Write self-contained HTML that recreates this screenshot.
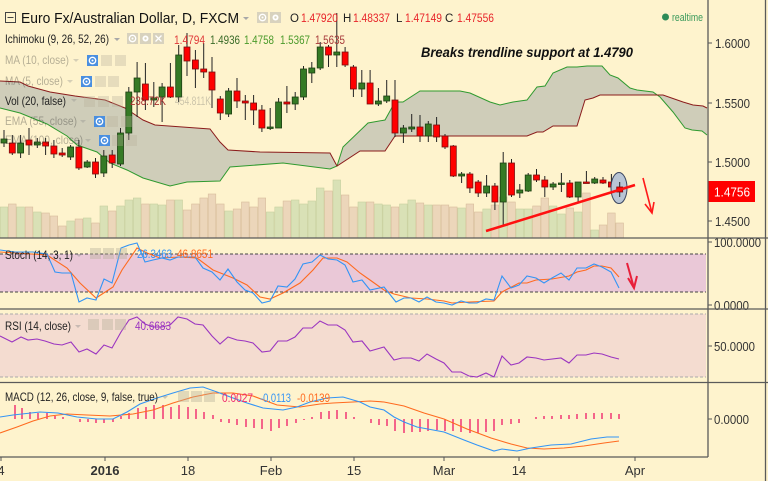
<!DOCTYPE html>
<html><head><meta charset="utf-8"><style>
html,body{margin:0;padding:0;background:#fef3cd;}
svg{display:block;}
text{font-family:"Liberation Sans",Arial,sans-serif;}
.w{stroke:#222;stroke-width:1}
.g{fill:#357a25;stroke:#1d3f12;stroke-width:.8}
.r{fill:#ff0000;stroke:#7a1010;stroke-width:.8}
.vg{fill:#d9e1b6;stroke:#c6cf9f;stroke-width:.6}
.vs{fill:#ecd6ba;stroke:#d8bd9c;stroke-width:.6}
.ax{font-size:13px;fill:#333}
.lb{font-size:12px;fill:#222}
.hs{stroke:#f0286e;stroke-width:1.4}
</style></head><body>
<svg width="768" height="481" viewBox="0 0 768 481" xmlns="http://www.w3.org/2000/svg">
<rect x="0" y="0" width="768" height="481" fill="#fef3cd"/>

<!-- Stoch band & RSI band -->
<rect x="0" y="254" width="706" height="38" fill="#eac8d7"/>
<line x1="0" y1="254" x2="706" y2="254" stroke="#444" stroke-width="1" stroke-dasharray="3,2"/>
<line x1="0" y1="292" x2="706" y2="292" stroke="#444" stroke-width="1" stroke-dasharray="3,2"/>
<rect x="0" y="314" width="706" height="63" fill="#f4dcd0"/>
<line x1="0" y1="314" x2="706" y2="314" stroke="#aaa" stroke-width="1" stroke-dasharray="3,2"/>
<line x1="0" y1="377" x2="706" y2="377" stroke="#aaa" stroke-width="1" stroke-dasharray="3,2"/>

<!-- Volume -->
<g>
<rect class="vg" x="0.2" y="207" width="7.6" height="31"/>
<rect class="vs" x="8.5" y="204" width="7.6" height="34"/>
<rect class="vg" x="16.8" y="207" width="7.6" height="31"/>
<rect class="vs" x="25.2" y="207" width="7.6" height="31"/>
<rect class="vg" x="33.5" y="212" width="7.6" height="26"/>
<rect class="vs" x="41.8" y="213" width="7.6" height="25"/>
<rect class="vs" x="50.1" y="216" width="7.6" height="22"/>
<rect class="vs" x="58.4" y="226" width="7.6" height="12"/>
<rect class="vg" x="66.8" y="221" width="7.6" height="17"/>
<rect class="vs" x="75.1" y="219" width="7.6" height="19"/>
<rect class="vg" x="83.4" y="218" width="7.6" height="20"/>
<rect class="vs" x="91.7" y="223" width="7.6" height="15"/>
<rect class="vg" x="100" y="206" width="7.6" height="32"/>
<rect class="vs" x="108.4" y="211" width="7.6" height="27"/>
<rect class="vg" x="116.7" y="206" width="7.6" height="32"/>
<rect class="vg" x="125" y="200" width="7.6" height="38"/>
<rect class="vg" x="133.3" y="198" width="7.6" height="40"/>
<rect class="vs" x="141.6" y="204" width="7.6" height="34"/>
<rect class="vg" x="150" y="204" width="7.6" height="34"/>
<rect class="vg" x="158.3" y="205" width="7.6" height="33"/>
<rect class="vs" x="166.6" y="200" width="7.6" height="38"/>
<rect class="vg" x="174.9" y="200" width="7.6" height="38"/>
<rect class="vs" x="183.2" y="210" width="7.6" height="28"/>
<rect class="vs" x="191.6" y="204" width="7.6" height="34"/>
<rect class="vs" x="199.9" y="198" width="7.6" height="40"/>
<rect class="vs" x="208.2" y="194" width="7.6" height="44"/>
<rect class="vs" x="216.5" y="204" width="7.6" height="34"/>
<rect class="vg" x="224.8" y="211" width="7.6" height="27"/>
<rect class="vs" x="233.2" y="209" width="7.6" height="29"/>
<rect class="vs" x="241.5" y="202" width="7.6" height="36"/>
<rect class="vs" x="249.8" y="207" width="7.6" height="31"/>
<rect class="vs" x="258.1" y="198" width="7.6" height="40"/>
<rect class="vg" x="266.4" y="212" width="7.6" height="26"/>
<rect class="vg" x="274.8" y="207" width="7.6" height="31"/>
<rect class="vs" x="283.1" y="201" width="7.6" height="37"/>
<rect class="vg" x="291.4" y="200" width="7.6" height="38"/>
<rect class="vg" x="299.7" y="204" width="7.6" height="34"/>
<rect class="vg" x="308" y="201" width="7.6" height="37"/>
<rect class="vg" x="316.4" y="188" width="7.6" height="50"/>
<rect class="vs" x="324.7" y="191" width="7.6" height="47"/>
<rect class="vg" x="333" y="180" width="7.6" height="58"/>
<rect class="vs" x="341.3" y="195" width="7.6" height="43"/>
<rect class="vs" x="349.6" y="207" width="7.6" height="31"/>
<rect class="vg" x="358" y="202" width="7.6" height="36"/>
<rect class="vs" x="366.3" y="202" width="7.6" height="36"/>
<rect class="vg" x="374.6" y="204" width="7.6" height="34"/>
<rect class="vg" x="382.9" y="205" width="7.6" height="33"/>
<rect class="vs" x="391.2" y="207" width="7.6" height="31"/>
<rect class="vg" x="399.6" y="204" width="7.6" height="34"/>
<rect class="vg" x="407.9" y="200" width="7.6" height="38"/>
<rect class="vs" x="416.2" y="203" width="7.6" height="35"/>
<rect class="vg" x="424.5" y="205" width="7.6" height="33"/>
<rect class="vs" x="432.8" y="205" width="7.6" height="33"/>
<rect class="vs" x="441.2" y="205" width="7.6" height="33"/>
<rect class="vs" x="449.5" y="207" width="7.6" height="31"/>
<rect class="vg" x="457.8" y="208" width="7.6" height="30"/>
<rect class="vs" x="466.1" y="204" width="7.6" height="34"/>
<rect class="vs" x="474.4" y="212" width="7.6" height="26"/>
<rect class="vg" x="482.8" y="209" width="7.6" height="29"/>
<rect class="vs" x="491.1" y="205" width="7.6" height="33"/>
<rect class="vg" x="499.4" y="197" width="7.6" height="41"/>
<rect class="vs" x="507.7" y="202" width="7.6" height="36"/>
<rect class="vg" x="516" y="209" width="7.6" height="29"/>
<rect class="vg" x="524.4" y="209" width="7.6" height="29"/>
<rect class="vs" x="532.7" y="206" width="7.6" height="32"/>
<rect class="vs" x="541" y="198" width="7.6" height="40"/>
<rect class="vg" x="549.3" y="206" width="7.6" height="32"/>
<rect class="vg" x="557.6" y="214" width="7.6" height="24"/>
<rect class="vs" x="566" y="208" width="7.6" height="30"/>
<rect class="vg" x="574.3" y="212" width="7.6" height="26"/>
<rect class="vs" x="582.6" y="193" width="7.6" height="45"/>
<rect class="vg" x="590.9" y="230" width="7.6" height="8"/>
<rect class="vs" x="599.2" y="225" width="7.6" height="13"/>
<rect class="vs" x="607.6" y="213" width="7.6" height="25"/>
<rect class="vs" x="615.9" y="223" width="7.6" height="15"/>
</g>

<!-- Ichimoku cloud -->
<polygon fill="#cfcdb9" points="0,108 20,113 47,124 67,136 77,145 97,152 110,163 127,170 143,178 170,186 187,182 220,181 230,167 283,163 330,169 337,166 343,147 368,123 385,120 395,102 403,102 420,91 460,91 470,93 490,102 500,105 513,102 527,100 537,87 545,86 553,73 567,67 577,67 587,66 602,66 610,75 618,78 630,88 637,90 653,92 660,97 673,112 685,128 692,130 702,131 707,135 707,108 703,106 693,105 683,102 663,95 600,95 593,98 585,100 577,126 553,126 543,132 537,132 527,136 395,136 385,151 360,151 337,166 330,153 260,152 228,150 220,142 210,129 155,125 143,120 125,108 105,100 75,96 50,92 28,86 20,82 0,81"/>
<polyline fill="none" stroke="#2f9a2f" stroke-width="1" points="0,108 20,113 47,124 67,136 77,145 97,152 110,163 127,170 143,178 170,186 187,182 220,181 230,167 283,163 330,169 337,166 343,147 368,123 385,120 395,102 403,102 420,91 460,91 470,93 490,102 500,105 513,102 527,100 537,87 545,86 553,73 567,67 577,67 587,66 602,66 610,75 618,78 630,88 637,90 653,92 660,97 673,112 685,128 692,130 702,131 707,135"/>
<polyline fill="none" stroke="#8b1c1c" stroke-width="1" points="0,81 20,82 28,86 50,92 75,96 105,100 125,108 143,120 155,125 210,129 220,142 228,150 260,152 330,153 337,166 360,151 385,151 395,136 527,136 537,132 543,132 553,126 577,126 585,100 593,98 600,95 663,95 683,102 693,105 703,106 707,108"/>

<!-- Candles -->
<g>
<line class="w" x1="4" y1="130" x2="4" y2="147"/><rect class="g" x="1" y="139" width="6" height="4"/>
<line class="w" x1="12.3" y1="135" x2="12.3" y2="155"/><rect class="r" x="9.3" y="143" width="6" height="10"/>
<line class="w" x1="20.6" y1="135" x2="20.6" y2="158"/><rect class="g" x="17.6" y="143" width="6" height="10"/>
<line class="w" x1="29" y1="128" x2="29" y2="155"/><rect class="r" x="26" y="140" width="6" height="5"/>
<line class="w" x1="37.3" y1="138" x2="37.3" y2="148"/><rect class="g" x="34.3" y="142" width="6" height="3"/>
<line class="w" x1="45.6" y1="138" x2="45.6" y2="155"/><rect class="r" x="42.6" y="142" width="6" height="4"/>
<line class="w" x1="53.9" y1="140" x2="53.9" y2="158"/><rect class="r" x="50.9" y="146" width="6" height="8"/>
<line class="w" x1="62.2" y1="148" x2="62.2" y2="157"/><rect class="r" x="59.2" y="153" width="6" height="2"/>
<line class="w" x1="70.6" y1="145" x2="70.6" y2="160"/><rect class="g" x="67.6" y="147" width="6" height="10"/>
<line class="w" x1="78.9" y1="140" x2="78.9" y2="170"/><rect class="r" x="75.9" y="147" width="6" height="21"/>
<line class="w" x1="87.2" y1="160" x2="87.2" y2="168"/><rect class="g" x="84.2" y="162" width="6" height="5"/>
<line class="w" x1="95.5" y1="158" x2="95.5" y2="178"/><rect class="r" x="92.5" y="162" width="6" height="12"/>
<line class="w" x1="103.8" y1="150" x2="103.8" y2="177"/><rect class="g" x="100.8" y="156" width="6" height="17"/>
<line class="w" x1="112.2" y1="150" x2="112.2" y2="168"/><rect class="r" x="109.2" y="155" width="6" height="8"/>
<line class="w" x1="120.5" y1="128" x2="120.5" y2="166"/><rect class="g" x="117.5" y="133" width="6" height="31"/>
<line class="w" x1="128.8" y1="87" x2="128.8" y2="140"/><rect class="g" x="125.8" y="92" width="6" height="41"/>
<line class="w" x1="137.1" y1="62" x2="137.1" y2="117"/><rect class="g" x="134.1" y="78" width="6" height="14"/>
<line class="w" x1="145.4" y1="63" x2="145.4" y2="110"/><rect class="r" x="142.4" y="84" width="6" height="16"/>
<line class="w" x1="153.8" y1="82" x2="153.8" y2="107"/><rect class="g" x="150.8" y="98" width="6" height="2"/>
<line class="w" x1="162.1" y1="83" x2="162.1" y2="122"/><rect class="g" x="159.1" y="87" width="6" height="10"/>
<line class="w" x1="170.4" y1="63" x2="170.4" y2="98"/><rect class="r" x="167.4" y="87" width="6" height="10"/>
<line class="w" x1="178.7" y1="45" x2="178.7" y2="102"/><rect class="g" x="175.7" y="55" width="6" height="42"/>
<line class="w" x1="187" y1="33" x2="187" y2="76"/><rect class="r" x="184" y="47" width="6" height="14"/>
<line class="w" x1="195.4" y1="50" x2="195.4" y2="88"/><rect class="r" x="192.4" y="60" width="6" height="9"/>
<line class="w" x1="203.7" y1="43" x2="203.7" y2="78"/><rect class="r" x="200.7" y="69" width="6" height="3"/>
<line class="w" x1="212" y1="57" x2="212" y2="108"/><rect class="r" x="209" y="72" width="6" height="18"/>
<line class="w" x1="220.3" y1="96" x2="220.3" y2="120"/><rect class="r" x="217.3" y="99" width="6" height="14"/>
<line class="w" x1="228.6" y1="88" x2="228.6" y2="117"/><rect class="g" x="225.6" y="91" width="6" height="23"/>
<line class="w" x1="237" y1="78" x2="237" y2="108"/><rect class="r" x="234" y="91" width="6" height="10"/>
<line class="w" x1="245.3" y1="95" x2="245.3" y2="120"/><rect class="r" x="242.3" y="101" width="6" height="2"/>
<line class="w" x1="253.6" y1="95" x2="253.6" y2="125"/><rect class="r" x="250.6" y="103" width="6" height="7"/>
<line class="w" x1="261.9" y1="105" x2="261.9" y2="132"/><rect class="r" x="258.9" y="110" width="6" height="18"/>
<line class="w" x1="270.2" y1="108" x2="270.2" y2="130"/><rect class="g" x="267.2" y="127" width="6" height="1.5"/>
<line class="w" x1="278.6" y1="98" x2="278.6" y2="128"/><rect class="g" x="275.6" y="102" width="6" height="26"/>
<line class="w" x1="286.9" y1="86" x2="286.9" y2="113"/><rect class="r" x="283.9" y="102" width="6" height="2"/>
<line class="w" x1="295.2" y1="92" x2="295.2" y2="110"/><rect class="g" x="292.2" y="97" width="6" height="7"/>
<line class="w" x1="303.5" y1="66" x2="303.5" y2="100"/><rect class="g" x="300.5" y="69" width="6" height="28"/>
<line class="w" x1="311.8" y1="62" x2="311.8" y2="83"/><rect class="g" x="308.8" y="68" width="6" height="5"/>
<line class="w" x1="320.2" y1="42" x2="320.2" y2="70"/><rect class="g" x="317.2" y="47" width="6" height="21"/>
<line class="w" x1="328.5" y1="45" x2="328.5" y2="67"/><rect class="r" x="325.5" y="47" width="6" height="8"/>
<line class="w" x1="336.8" y1="13" x2="336.8" y2="67"/><rect class="g" x="333.8" y="52" width="6" height="3"/>
<line class="w" x1="345.1" y1="47" x2="345.1" y2="67"/><rect class="r" x="342.1" y="52" width="6" height="13"/>
<line class="w" x1="353.4" y1="65" x2="353.4" y2="97"/><rect class="r" x="350.4" y="67" width="6" height="22"/>
<line class="w" x1="361.8" y1="70" x2="361.8" y2="97"/><rect class="g" x="358.8" y="83" width="6" height="6"/>
<line class="w" x1="370.1" y1="70" x2="370.1" y2="104"/><rect class="r" x="367.1" y="83" width="6" height="21"/>
<line class="w" x1="378.4" y1="88" x2="378.4" y2="106"/><rect class="g" x="375.4" y="101" width="6" height="3"/>
<line class="w" x1="386.7" y1="80" x2="386.7" y2="103"/><rect class="g" x="383.7" y="96" width="6" height="5"/>
<line class="w" x1="395" y1="80" x2="395" y2="137"/><rect class="r" x="392" y="100" width="6" height="33"/>
<line class="w" x1="403.4" y1="125" x2="403.4" y2="143"/><rect class="g" x="400.4" y="128" width="6" height="5"/>
<line class="w" x1="411.7" y1="114" x2="411.7" y2="132"/><rect class="g" x="408.7" y="127" width="6" height="2"/>
<line class="w" x1="420" y1="115" x2="420" y2="142"/><rect class="r" x="417" y="127" width="6" height="9"/>
<line class="w" x1="428.3" y1="121" x2="428.3" y2="142"/><rect class="g" x="425.3" y="124" width="6" height="12"/>
<line class="w" x1="436.6" y1="117" x2="436.6" y2="142"/><rect class="r" x="433.6" y="125" width="6" height="12"/>
<line class="w" x1="445" y1="134" x2="445" y2="149"/><rect class="r" x="442" y="136" width="6" height="11"/>
<line class="w" x1="453.3" y1="145" x2="453.3" y2="177"/><rect class="r" x="450.3" y="146" width="6" height="30"/>
<line class="w" x1="461.6" y1="172" x2="461.6" y2="183"/><rect class="g" x="458.6" y="174" width="6" height="2"/>
<line class="w" x1="469.9" y1="172" x2="469.9" y2="193"/><rect class="r" x="466.9" y="174" width="6" height="14"/>
<line class="w" x1="478.2" y1="180" x2="478.2" y2="197"/><rect class="r" x="475.2" y="182" width="6" height="11"/>
<line class="w" x1="486.6" y1="175" x2="486.6" y2="197"/><rect class="g" x="483.6" y="186" width="6" height="7"/>
<line class="w" x1="494.9" y1="183" x2="494.9" y2="210"/><rect class="r" x="491.9" y="186" width="6" height="16"/>
<line class="w" x1="503.2" y1="152" x2="503.2" y2="225"/><rect class="g" x="500.2" y="163" width="6" height="39"/>
<line class="w" x1="511.5" y1="159" x2="511.5" y2="197"/><rect class="r" x="508.5" y="163" width="6" height="32"/>
<line class="w" x1="519.8" y1="184" x2="519.8" y2="198"/><rect class="g" x="516.8" y="190" width="6" height="3"/>
<line class="w" x1="528.2" y1="173" x2="528.2" y2="192"/><rect class="g" x="525.2" y="175" width="6" height="16"/>
<line class="w" x1="536.5" y1="169" x2="536.5" y2="182"/><rect class="r" x="533.5" y="175" width="6" height="5"/>
<line class="w" x1="544.8" y1="176" x2="544.8" y2="197"/><rect class="r" x="541.8" y="180" width="6" height="7"/>
<line class="w" x1="553.1" y1="182" x2="553.1" y2="190"/><rect class="g" x="550.1" y="184" width="6" height="3"/>
<line class="w" x1="561.4" y1="173" x2="561.4" y2="192"/><rect class="g" x="558.4" y="183" width="6" height="1.5"/>
<line class="w" x1="569.8" y1="180" x2="569.8" y2="198"/><rect class="r" x="566.8" y="183" width="6" height="14"/>
<line class="w" x1="578.1" y1="182" x2="578.1" y2="202"/><rect class="g" x="575.1" y="182" width="6" height="15"/>
<line class="w" x1="586.4" y1="171" x2="586.4" y2="183"/><rect class="r" x="583.4" y="182" width="6" height="1.5"/>
<line class="w" x1="594.7" y1="177" x2="594.7" y2="184"/><rect class="g" x="591.7" y="179" width="6" height="4"/>
<line class="w" x1="603" y1="177" x2="603" y2="184"/><rect class="r" x="600" y="180" width="6" height="3"/>
<line class="w" x1="611.4" y1="174" x2="611.4" y2="188"/><rect class="r" x="608.4" y="182" width="6" height="5"/>
</g>

<!-- Ellipse & last candle -->
<ellipse cx="619" cy="188" rx="8" ry="15.5" fill="#b9c5d5" stroke="#3a4560" stroke-width="1"/>
<line class="w" x1="619.7" y1="182" x2="619.7" y2="197"/><rect class="r" x="616.7" y="187" width="6" height="5"/>
<!-- Trendline -->
<line x1="486" y1="231" x2="635" y2="185" stroke="#ff1010" stroke-width="2.5"/>
<!-- Arrow main -->
<g stroke="#ff1a1a" stroke-width="1.6" fill="none">
<line x1="643" y1="178" x2="652" y2="213"/>
<polyline points="645,204 652,213 654,202"/>
</g>
<!-- Arrow stoch -->
<g stroke="#e8203a" stroke-width="2" fill="none">
<line x1="627" y1="263" x2="634" y2="288"/>
<polyline points="628,278 634,288 637,276"/>
</g>

<!-- Header -->
<rect x="5.5" y="12.5" width="10" height="10" fill="none" stroke="#444" stroke-width="1"/>
<line x1="7.5" y1="17.5" x2="13.5" y2="17.5" stroke="#444" stroke-width="1"/>
<text x="21" y="23" font-size="15" fill="#111" textLength="218" lengthAdjust="spacingAndGlyphs">Euro Fx/Australian Dollar, D, FXCM</text>
<polygon points="243,17 249,17 246,20" fill="#a8a8a8"/>
<g>
<rect x="257" y="12" width="11" height="11" fill="#d8d2be"/><circle cx="262.5" cy="17.5" r="3.2" fill="none" stroke="#fff" stroke-width="1.3"/><circle cx="262.5" cy="17.5" r="1" fill="#fff"/>
<rect x="270" y="12" width="11" height="11" fill="#d8d2be"/><circle cx="275.5" cy="17.5" r="3" fill="#fff"/><circle cx="275.5" cy="17.5" r="1.2" fill="#d8d2be"/>
</g>
<text x="290" y="22" font-size="11.5" fill="#222">O</text>
<text x="301" y="22" font-size="11.5" fill="#e8252a" textLength="37" lengthAdjust="spacingAndGlyphs">1.47920</text>
<text x="343" y="22" font-size="11.5" fill="#222">H</text>
<text x="353" y="22" font-size="11.5" fill="#e8252a" textLength="37" lengthAdjust="spacingAndGlyphs">1.48337</text>
<text x="396" y="22" font-size="11.5" fill="#222">L</text>
<text x="405" y="22" font-size="11.5" fill="#e8252a" textLength="37" lengthAdjust="spacingAndGlyphs">1.47149</text>
<text x="445" y="22" font-size="11.5" fill="#222">C</text>
<text x="457" y="22" font-size="11.5" fill="#e8252a" textLength="37" lengthAdjust="spacingAndGlyphs">1.47556</text>

<circle cx="665.5" cy="17" r="3.5" fill="#2e8b57"/>
<text x="672" y="21" font-size="11" fill="#3a9a5a" textLength="31" lengthAdjust="spacingAndGlyphs">realtime</text>

<!-- Ichimoku row -->
<text x="5" y="43" class="lb" textLength="104" lengthAdjust="spacingAndGlyphs">Ichimoku (9, 26, 52, 26)</text>
<polygon points="114,38 120,38 117,41" fill="#a8a8a8"/>
<g>
<rect x="127" y="33" width="11" height="11" fill="#d8d2be"/><circle cx="132.5" cy="38.5" r="3.2" fill="none" stroke="#fff" stroke-width="1.3"/><circle cx="132.5" cy="38.5" r="1" fill="#fff"/>
<rect x="140" y="33" width="11" height="11" fill="#d8d2be"/><circle cx="145.5" cy="38.5" r="3" fill="#fff"/><circle cx="145.5" cy="38.5" r="1.2" fill="#d8d2be"/>
<rect x="153" y="33" width="11" height="11" fill="#d8d2be"/><path d="M155.5 35.5 L161.5 41.5 M161.5 35.5 L155.5 41.5" stroke="#fff" stroke-width="1.3"/>
</g>
<text x="174" y="44" font-size="12" fill="#e03a3a" textLength="31" lengthAdjust="spacingAndGlyphs">1.4794</text>
<text x="210" y="44" font-size="12" fill="#3a6b28" textLength="30" lengthAdjust="spacingAndGlyphs">1.4936</text>
<text x="244" y="44" font-size="12" fill="#4a9a2a" textLength="30" lengthAdjust="spacingAndGlyphs">1.4758</text>
<text x="280" y="44" font-size="12" fill="#4a9a2a" textLength="30" lengthAdjust="spacingAndGlyphs">1.5367</text>
<text x="315" y="44" font-size="12" fill="#a83a3a" textLength="30" lengthAdjust="spacingAndGlyphs">1.5635</text>

<!-- Faded rows -->
<g opacity="0.33">
<text x="5" y="64" class="lb" fill="#555" textLength="64" lengthAdjust="spacingAndGlyphs">MA (10, close)</text>
<polygon points="73,59 79,59 76,62" fill="#888"/>
<rect x="101" y="55" width="11" height="11" fill="#b8b09a"/><rect x="115" y="55" width="11" height="11" fill="#b8b09a"/>
<text x="5" y="85" class="lb" fill="#555" textLength="58" lengthAdjust="spacingAndGlyphs">MA (5, close)</text>
<polygon points="67,80 73,80 70,83" fill="#888"/>
<rect x="95" y="76" width="11" height="11" fill="#b8b09a"/><rect x="108" y="76" width="11" height="11" fill="#b8b09a"/>
<polygon points="71,99 77,99 74,102" fill="#888"/>
<rect x="84" y="96" width="11" height="11" fill="#b8b09a"/><rect x="98" y="96" width="11" height="11" fill="#b8b09a"/><rect x="112" y="96" width="11" height="11" fill="#b8b09a"/>
<text x="175" y="105" font-size="12" fill="#666" textLength="36" lengthAdjust="spacingAndGlyphs">454.811K</text>
<text x="5" y="125" class="lb" fill="#555" textLength="72" lengthAdjust="spacingAndGlyphs">EMA (55, close)</text>
<polygon points="80,120 86,120 83,123" fill="#888"/>
<rect x="107" y="116" width="11" height="11" fill="#b8b09a"/><rect x="121" y="116" width="11" height="11" fill="#b8b09a"/>
<text x="5" y="144" class="lb" fill="#555" textLength="78" lengthAdjust="spacingAndGlyphs">EMA (100, close)</text>
<polygon points="85,139 91,139 88,142" fill="#888"/>
<rect x="112" y="135" width="11" height="11" fill="#b8b09a"/><rect x="126" y="135" width="11" height="11" fill="#b8b09a"/>
</g>
<g>
<rect x="87" y="55" width="11" height="11" fill="#4a8fe0"/><circle cx="92.5" cy="60.5" r="3.2" fill="none" stroke="#fff" stroke-width="1.3"/><circle cx="92.5" cy="60.5" r="1" fill="#fff"/>
<rect x="81" y="76" width="11" height="11" fill="#4a8fe0"/><circle cx="86.5" cy="81.5" r="3.2" fill="none" stroke="#fff" stroke-width="1.3"/><circle cx="86.5" cy="81.5" r="1" fill="#fff"/>
<rect x="94" y="116" width="11" height="11" fill="#4a8fe0"/><circle cx="99.5" cy="121.5" r="3.2" fill="none" stroke="#fff" stroke-width="1.3"/><circle cx="99.5" cy="121.5" r="1" fill="#fff"/>
<rect x="99" y="135" width="11" height="11" fill="#4a8fe0"/><circle cx="104.5" cy="140.5" r="3.2" fill="none" stroke="#fff" stroke-width="1.3"/><circle cx="104.5" cy="140.5" r="1" fill="#fff"/>
</g>
<text x="5" y="105" class="lb" fill="#222" textLength="61" lengthAdjust="spacingAndGlyphs">Vol (20, false)</text>
<text x="130" y="105" font-size="12" fill="#a83030" textLength="36" lengthAdjust="spacingAndGlyphs">238.72K</text>

<text x="421" y="57" font-size="14" font-weight="bold" font-style="italic" fill="#111" textLength="212" lengthAdjust="spacingAndGlyphs">Breaks trendline support at 1.4790</text>

<!-- Stoch lines -->
<polyline fill="none" stroke="#ff6a1f" stroke-width="1.1" points="0,252 47,255 67,268 80,283 96,298 113,287 122,270 137,248 147,253 160,258 180,257 197,258 213,270 233,278 247,285 260,297 270,299 283,293 300,283 313,270 323,258 337,258 347,262 360,273 370,280 384,290 394,294 411,298 427,299 444,301 452,303 469,302 494,301 502,292 519,283 527,283 536,280 552,279 569,276 577,272 586,270 594,266 602,266 611,268 619,277"/>
<polyline fill="none" stroke="#3394f5" stroke-width="1.1" points="0,250 15,252 33,252 47,254 55,272 62,273 71,273 79,302 87,298 96,300 104,279 112,283 121,248 129,245 137,243 145,262 153,260 162,258 170,260 178,257 187,257 195,257 203,268 212,272 220,280 228,269 237,282 245,290 253,293 262,303 270,301 278,286 287,287 295,279 303,264 312,262 320,255 328,259 337,260 345,265 353,282 362,280 370,290 384,287 396,302 404,298 411,298 419,302 427,297 436,302 444,303 452,305 461,301 469,303 477,303 486,299 494,300 502,276 511,288 519,285 527,276 536,278 544,283 552,278 561,273 569,280 577,268 586,268 594,264 602,267 611,272 619,288"/>
<text x="5" y="259" class="lb" fill="#222" textLength="68" lengthAdjust="spacingAndGlyphs">Stoch (14, 3, 1)</text>
<g opacity="0.4">
<polygon points="76,254 82,254 79,257" fill="#888"/>
<rect x="90" y="248" width="11" height="11" fill="#b8b09a"/><rect x="103" y="248" width="11" height="11" fill="#b8b09a"/><rect x="116" y="248" width="11" height="11" fill="#b8b09a"/>
</g>
<text x="137" y="258" font-size="12" fill="#3394f5" textLength="35" lengthAdjust="spacingAndGlyphs">26.3463</text>
<text x="177" y="258" font-size="12" fill="#ff6a1f" textLength="36" lengthAdjust="spacingAndGlyphs">46.8651</text>

<!-- RSI -->
<polyline fill="none" stroke="#9b35c0" stroke-width="1.1" points="0,336 12,342 21,337 28,340 37,339 45,341 54,344 62,345 71,342 79,352 87,349 96,354 104,345 112,348 121,332 129,320 137,317 145,324 153,327 162,327 170,325 178,317 187,319 195,324 203,325 212,336 220,344 228,337 237,340 245,341 253,343 262,352 270,351 278,341 287,341 295,337 303,328 312,328 320,321 328,325 337,325 345,330 353,342 362,341 370,351 384,347 394,360 402,358 411,358 419,361 427,354 436,359 444,363 452,372 461,372 469,376 477,377 486,373 494,377 502,356 511,365 519,363 527,357 536,358 544,360 561,358 569,363 577,355 586,355 594,353 602,354 611,357 619,359"/>
<text x="5" y="330" class="lb" fill="#222" textLength="66" lengthAdjust="spacingAndGlyphs">RSI (14, close)</text>
<g opacity="0.4">
<polygon points="75,325 81,325 78,328" fill="#888"/>
<rect x="88" y="319" width="11" height="11" fill="#b8b09a"/><rect x="102" y="319" width="11" height="11" fill="#b8b09a"/><rect x="115" y="319" width="11" height="11" fill="#b8b09a"/>
</g>
<text x="135" y="330" font-size="12" fill="#9b35c0" textLength="36" lengthAdjust="spacingAndGlyphs">40.6683</text>

<!-- MACD histogram -->
<g class="hs">
<line x1="15" y1="419" x2="15" y2="405"/><line x1="22" y1="419" x2="22" y2="408"/><line x1="30" y1="419" x2="30" y2="412"/><line x1="38" y1="419" x2="38" y2="413"/><line x1="47" y1="419" x2="47" y2="413"/><line x1="55" y1="419" x2="55" y2="416"/><line x1="63" y1="419" x2="63" y2="417"/><line x1="80" y1="419" x2="80" y2="422"/><line x1="88" y1="419" x2="88" y2="422"/><line x1="96" y1="419" x2="96" y2="423"/><line x1="104" y1="419" x2="104" y2="423"/><line x1="113" y1="419" x2="113" y2="422"/><line x1="121" y1="419" x2="121" y2="416"/><line x1="129" y1="419" x2="129" y2="413"/><line x1="138" y1="419" x2="138" y2="408"/><line x1="146" y1="419" x2="146" y2="407"/><line x1="154" y1="419" x2="154" y2="405"/><line x1="163" y1="419" x2="163" y2="405"/><line x1="171" y1="419" x2="171" y2="407"/><line x1="179" y1="419" x2="179" y2="405"/><line x1="188" y1="419" x2="188" y2="407"/><line x1="196" y1="419" x2="196" y2="409"/><line x1="204" y1="419" x2="204" y2="412"/><line x1="213" y1="419" x2="213" y2="415"/><line x1="221" y1="419" x2="221" y2="422"/><line x1="229" y1="419" x2="229" y2="423"/><line x1="237" y1="419" x2="237" y2="425"/><line x1="246" y1="419" x2="246" y2="427"/><line x1="254" y1="419" x2="254" y2="428"/><line x1="262" y1="419" x2="262" y2="429"/><line x1="271" y1="419" x2="271" y2="431"/><line x1="279" y1="419" x2="279" y2="428"/><line x1="287" y1="419" x2="287" y2="426"/><line x1="296" y1="419" x2="296" y2="423"/><line x1="304" y1="419" x2="304" y2="420"/><line x1="312" y1="419" x2="312" y2="417"/><line x1="321" y1="419" x2="321" y2="412"/><line x1="329" y1="419" x2="329" y2="411"/><line x1="337" y1="419" x2="337" y2="410"/><line x1="346" y1="419" x2="346" y2="412"/><line x1="354" y1="419" x2="354" y2="417"/><line x1="371" y1="419" x2="371" y2="423"/><line x1="379" y1="419" x2="379" y2="425"/><line x1="387" y1="419" x2="387" y2="426"/><line x1="395" y1="419" x2="395" y2="431"/><line x1="404" y1="419" x2="404" y2="433"/><line x1="412" y1="419" x2="412" y2="432"/><line x1="420" y1="419" x2="420" y2="432"/><line x1="428" y1="419" x2="428" y2="431"/><line x1="437" y1="419" x2="437" y2="430"/><line x1="445" y1="419" x2="445" y2="431"/><line x1="453" y1="419" x2="453" y2="431"/><line x1="461" y1="419" x2="461" y2="432"/><line x1="470" y1="419" x2="470" y2="433"/><line x1="478" y1="419" x2="478" y2="433"/><line x1="486" y1="419" x2="486" y2="432"/><line x1="494" y1="419" x2="494" y2="431"/><line x1="502" y1="419" x2="502" y2="425"/><line x1="511" y1="419" x2="511" y2="424"/><line x1="519" y1="419" x2="519" y2="423"/><line x1="536" y1="419" x2="536" y2="417"/><line x1="544" y1="419" x2="544" y2="416"/><line x1="552" y1="419" x2="552" y2="416"/><line x1="561" y1="419" x2="561" y2="415"/><line x1="569" y1="419" x2="569" y2="415"/><line x1="577" y1="419" x2="577" y2="414"/><line x1="586" y1="419" x2="586" y2="413"/><line x1="594" y1="419" x2="594" y2="413"/><line x1="602" y1="419" x2="602" y2="413"/><line x1="611" y1="419" x2="611" y2="413"/><line x1="619" y1="419" x2="619" y2="414"/>
</g>
<polyline fill="none" stroke="#ff6a1f" stroke-width="1.1" points="0,433 17,427 33,421 50,416 67,414 87,415 110,416 133,414 153,410 173,403 193,397 213,393 233,393 253,396 277,405 300,407 320,404 333,403 353,402 370,401 384,402 404,406 424,413 444,419 467,429 491,438 511,444 527,448 544,449 564,448 584,446 604,443 619,441"/>
<polyline fill="none" stroke="#3394f5" stroke-width="1.1" points="0,417 13,415 40,412 58,413 77,417 97,419 113,419 127,412 140,404 157,398 173,393 190,388 203,387 217,392 233,398 247,403 263,408 283,410 297,407 310,402 327,398 343,397 360,402 370,407 384,410 394,417 404,422 417,427 444,432 464,440 477,445 494,451 502,449 517,451 531,448 551,445 571,444 591,439 607,437 619,437"/>
<text x="5" y="401" class="lb" fill="#222" textLength="153" lengthAdjust="spacingAndGlyphs">MACD (12, 26, close, 9, false, true)</text>
<g opacity="0.4">
<polygon points="162,396 168,396 165,399" fill="#888"/>
<rect x="178" y="391" width="11" height="11" fill="#b8b09a"/><rect x="191" y="391" width="11" height="11" fill="#b8b09a"/><rect x="204" y="391" width="11" height="11" fill="#b8b09a"/>
</g>
<text x="222" y="402" font-size="12" fill="#f0286e" textLength="31" lengthAdjust="spacingAndGlyphs">0.0027</text>
<text x="260" y="402" font-size="12" fill="#3394f5" textLength="31" lengthAdjust="spacingAndGlyphs">-0.0113</text>
<text x="297" y="402" font-size="12" fill="#ff6a1f" textLength="33" lengthAdjust="spacingAndGlyphs">-0.0139</text>

<!-- Axis labels right -->
<g class="ax">
<text x="715" y="48" textLength="35" lengthAdjust="spacingAndGlyphs">1.6000</text>
<text x="715" y="108" textLength="35" lengthAdjust="spacingAndGlyphs">1.5500</text>
<text x="715" y="167" textLength="35" lengthAdjust="spacingAndGlyphs">1.5000</text>
<text x="715" y="226" textLength="35" lengthAdjust="spacingAndGlyphs">1.4500</text>
<text x="714" y="247" textLength="47" lengthAdjust="spacingAndGlyphs">100.0000</text>
<text x="714" y="310" textLength="35" lengthAdjust="spacingAndGlyphs">0.0000</text>
<text x="714" y="351" textLength="41" lengthAdjust="spacingAndGlyphs">50.0000</text>
<text x="714" y="424" textLength="35" lengthAdjust="spacingAndGlyphs">0.0000</text>
</g>
<rect x="708" y="181" width="47" height="21" fill="#ff0000"/>
<text x="714" y="196.5" font-size="13" fill="#fff" textLength="36" lengthAdjust="spacingAndGlyphs">1.4756</text>
<g stroke="#555" stroke-width="1">
<line x1="708" y1="43" x2="712" y2="43"/><line x1="708" y1="103" x2="712" y2="103"/><line x1="708" y1="162" x2="712" y2="162"/><line x1="708" y1="221" x2="712" y2="221"/><line x1="708" y1="242" x2="712" y2="242"/><line x1="708" y1="305" x2="712" y2="305"/><line x1="708" y1="346" x2="712" y2="346"/><line x1="708" y1="419" x2="712" y2="419"/>
</g>

<!-- Panel separators / axes -->
<g stroke="#5a5a5a" stroke-width="1.3">
<line x1="0" y1="238" x2="768" y2="238"/>
<line x1="0" y1="309" x2="768" y2="309"/>
<line x1="0" y1="382.5" x2="768" y2="382.5"/>
<line x1="0" y1="457" x2="708" y2="457"/>
<line x1="708" y1="0" x2="708" y2="457"/>
<line x1="765.5" y1="0" x2="765.5" y2="481"/>
</g>

<!-- X axis -->
<g stroke="#555" stroke-width="1">
<line x1="1" y1="457" x2="1" y2="461"/><line x1="105" y1="457" x2="105" y2="461"/><line x1="188" y1="457" x2="188" y2="461"/><line x1="271" y1="457" x2="271" y2="461"/><line x1="354" y1="457" x2="354" y2="461"/><line x1="444" y1="457" x2="444" y2="461"/><line x1="519" y1="457" x2="519" y2="461"/><line x1="635" y1="457" x2="635" y2="461"/>
</g>
<g class="ax" text-anchor="middle">
<text x="1" y="475">4</text>
<text x="105" y="475" font-weight="bold">2016</text>
<text x="188" y="475">18</text>
<text x="271" y="475">Feb</text>
<text x="354" y="475">15</text>
<text x="444" y="475">Mar</text>
<text x="519" y="475">14</text>
<text x="635" y="475">Apr</text>
</g>
</svg>
</body></html>
